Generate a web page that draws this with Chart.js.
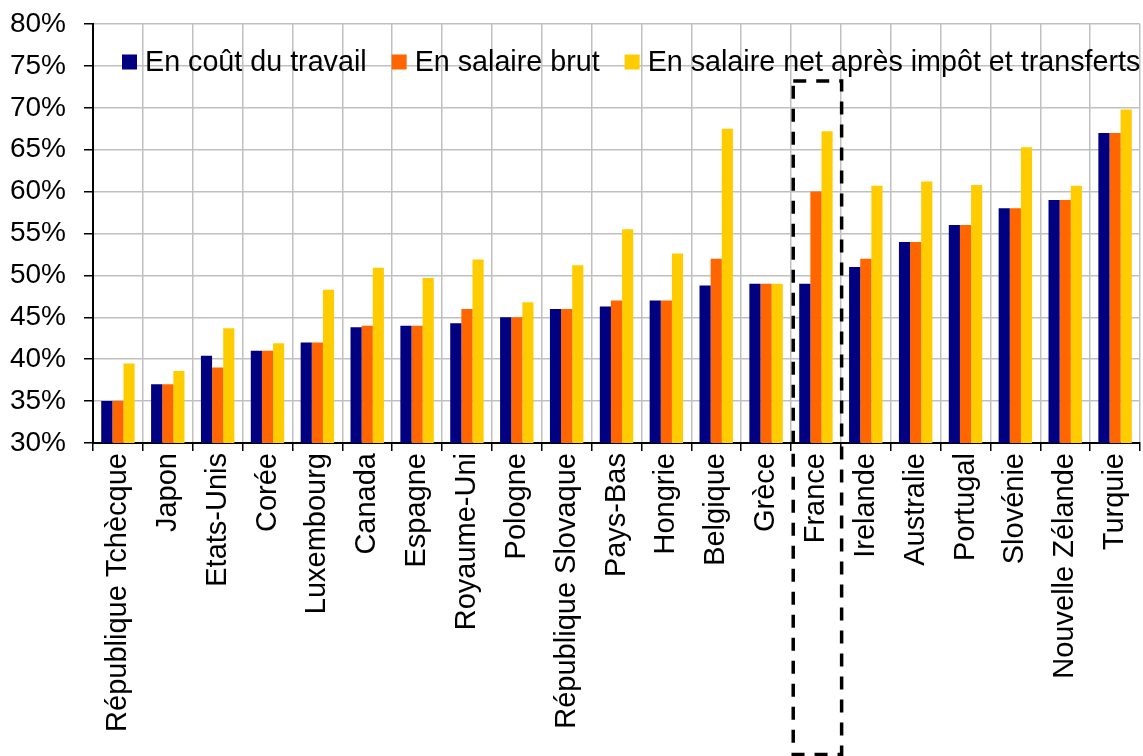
<!DOCTYPE html>
<html>
<head>
<meta charset="utf-8">
<script src="https://cdn.jsdelivr.net/npm/chart.js@4/dist/chart.umd.min.js"></script>
<style>
html,body{margin:0;padding:0;background:#fff;}
#wrap{width:1143px;height:756px;position:relative;}
</style>
</head>
<body>
<div id="wrap"><canvas id="c" width="1143" height="756"></canvas></div>
<script>
const labels = ["République Tchècque","Japon","Etats-Unis","Corée","Luxembourg","Canada","Espagne","Royaume-Uni","Pologne","République Slovaque","Pays-Bas","Hongrie","Belgique","Grèce","France","Irelande","Australie","Portugal","Slovénie","Nouvelle Zélande","Turquie"];
const coutTravail = [35,37,40.4,41,42,43.8,44,44.3,45,46,46.3,47,48.8,49,49,51,54,56,58,59,67];
const salaireBrut = [35,37,39,41,42,44,44,46,45,46,47,47,52,49,60,52,54,56,58,59,67];
const salaireNet = [39.5,38.6,43.7,41.9,48.3,50.9,49.7,51.9,46.8,51.2,55.5,52.6,67.5,49,67.2,60.7,61.2,60.8,65.3,60.7,69.8];
const seriesNames = ["En coût du travail","En salaire brut","En salaire net après impôt et transferts"];
const yTicks = {min:30, max:80, step:5};
const highlightIndex = labels.indexOf("France");

const FONT = '"Liberation Sans", Arial, sans-serif';
const colors = ["#000080","#FF6600","#FFCC00"];

const legendPlugin = {
  id:'floatLegend',
  afterDatasetsDraw(chart){
    const ctx = chart.ctx;
    const ca = chart.chartArea;
    const yc = ca.top + 38;
    let x = ca.left + 29;
    ctx.save();
    ctx.font = '28.7px ' + FONT;
    ctx.textBaseline = 'middle';
    ctx.textAlign = 'left';
    chart.data.datasets.forEach((ds,i)=>{
      ctx.fillStyle = ds.backgroundColor;
      ctx.fillRect(x, yc-7.5, 15, 15);
      x += 23;
      ctx.fillStyle = '#000';
      ctx.fillText(ds.label, x, yc+1);
      x += ctx.measureText(ds.label).width + 25;
    });
    ctx.restore();
  }
};

const boxPlugin = {
  id:'dashBox',
  afterDraw(chart){
    const xs = chart.scales.x, ys = chart.scales.y;
    const cx = xs.getPixelForValue(highlightIndex);
    const left = cx - 22.7, right = cx + 25.7;
    const top = ys.getPixelForValue(73.2);
    const bottom = chart.height - 1.5;
    const ctx = chart.ctx;
    ctx.save();
    ctx.strokeStyle = '#000';
    ctx.lineWidth = 3.5;
    ctx.setLineDash([13,10]);
    ctx.strokeRect(left, top, right-left, bottom-top);
    ctx.restore();
  }
};

new Chart(document.getElementById('c'), {
  type:'bar',
  data:{
    labels: labels,
    datasets:[
      {label:seriesNames[0], data:coutTravail, backgroundColor:colors[0]},
      {label:seriesNames[1], data:salaireBrut, backgroundColor:colors[1]},
      {label:seriesNames[2], data:salaireNet, backgroundColor:colors[2]}
    ]
  },
  options:{
    responsive:false,
    animation:false,
    devicePixelRatio:1,
    layout:{padding:{top:24,right:3,left:0,bottom:0}},
    datasets:{bar:{categoryPercentage:0.67, barPercentage:1.0}},
    plugins:{legend:{display:false}, tooltip:{enabled:false}},
    scales:{
      x:{
        grid:{color:'#c0c0c0', lineWidth:1.5, tickColor:'#000', tickLength:8, offset:true},
        border:{color:'#000', width:2},
        ticks:{color:'#000', font:{family:FONT, size:29}, minRotation:90, maxRotation:90, autoSkip:false, padding:2},
        afterFit(s){ s.height = 313; s.paddingLeft = 0; s.paddingRight = 0; }
      },
      y:{
        min:yTicks.min, max:yTicks.max,
        grid:{color:'#c0c0c0', lineWidth:1.5, tickColor:'#000', tickLength:9},
        border:{color:'#000', width:2},
        ticks:{stepSize:yTicks.step, color:'#000', font:{family:FONT, size:28}, padding:18, callback:v=>v+'%'},
        afterFit(s){ s.width = 93; s.paddingTop = 0; s.paddingBottom = 0; }
      }
    }
  },
  plugins:[legendPlugin, boxPlugin]
});
</script>
</body>
</html>
